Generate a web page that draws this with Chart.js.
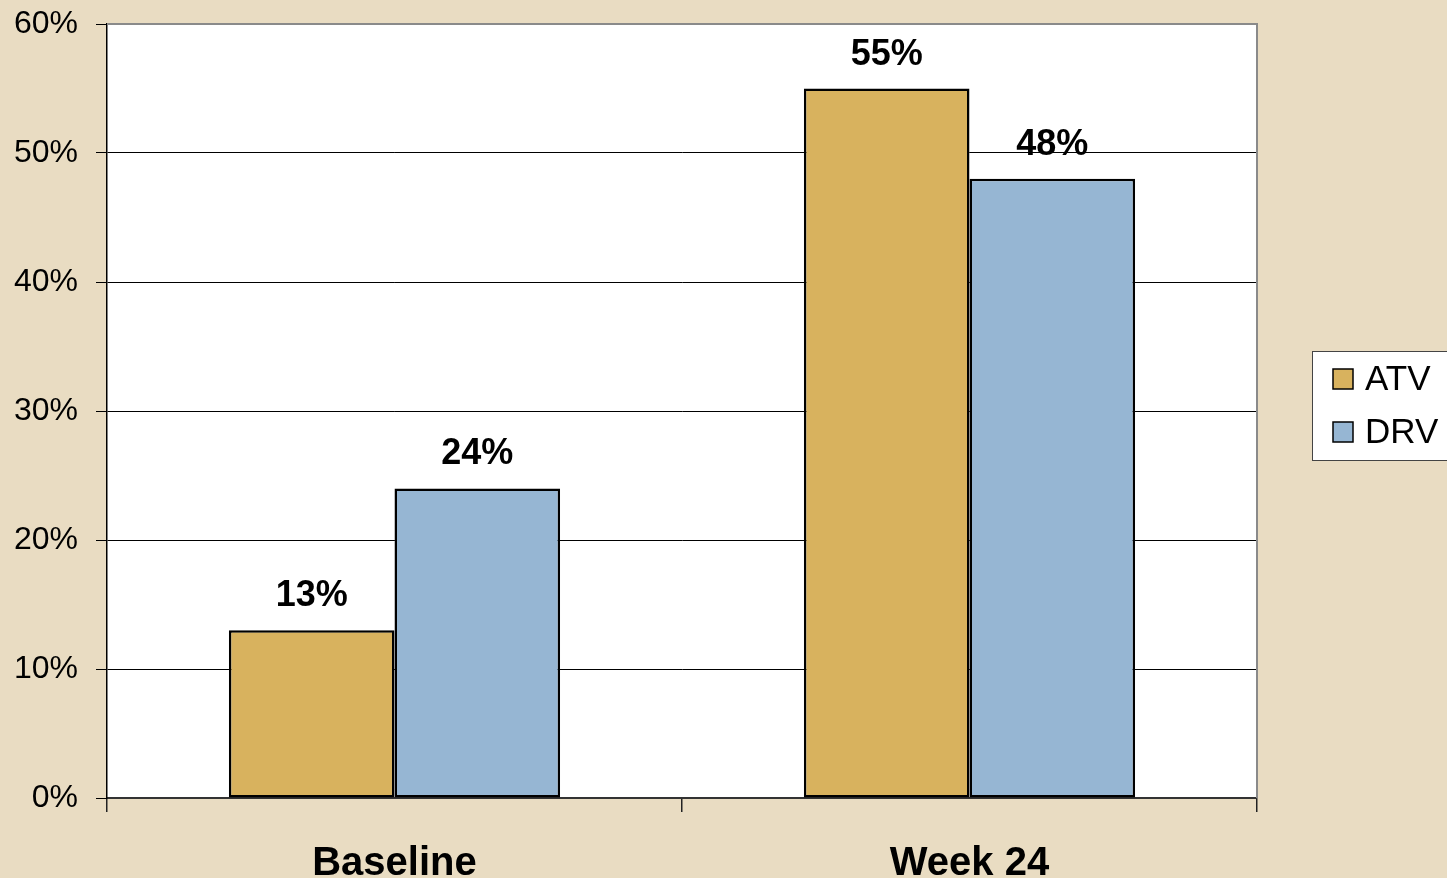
<!DOCTYPE html>
<html>
<head>
<meta charset="utf-8">
<title>ATV vs DRV</title>
<script src="https://cdn.jsdelivr.net/npm/chart.js@4.4.1/dist/chart.umd.min.js"></script>
<style>
  html, body { margin: 0; padding: 0; background: #E9DCC2; }
  #wrap { width: 1447px; height: 878px; position: relative; }
</style>
</head>
<body>
<div id="wrap"><canvas id="chart" width="1447" height="878"></canvas></div>
<script>
// Time points and percentages per regimen
const categories = ['Baseline', 'Week 24'];
const atvValues = [13, 55];
const drvValues = [24, 48];
const seriesNames = ['ATV', 'DRV'];
const yTicks = [0, 10, 20, 30, 40, 50, 60];

const ATV_COLOR = '#D8B25E';
const DRV_COLOR = '#96B6D3';
const FONT = '"Liberation Sans", Arial, Helvetica, sans-serif';

// White plot area with a grey frame on the top and right sides
const plotFrame = {
  id: 'plotFrame',
  beforeDraw(chart) {
    const { ctx, chartArea: a } = chart;
    ctx.save();
    ctx.fillStyle = '#FFFFFF';
    ctx.fillRect(a.left, a.top, a.right - a.left, a.bottom - a.top);
    ctx.restore();
  },
  afterDatasetsDraw(chart) {
    const { ctx, chartArea: a } = chart;
    ctx.save();
    ctx.strokeStyle = '#8A8A8A';
    ctx.lineWidth = 2;
    ctx.beginPath();
    ctx.moveTo(a.left, a.top);
    ctx.lineTo(a.right, a.top);
    ctx.lineTo(a.right, a.bottom);
    ctx.stroke();
    ctx.restore();
  }
};

// Bold percentage above each bar
const valueLabels = {
  id: 'valueLabels',
  afterDatasetsDraw(chart) {
    const { ctx } = chart;
    ctx.save();
    ctx.font = 'bold 36px ' + FONT;
    ctx.fillStyle = '#000';
    ctx.textAlign = 'center';
    ctx.textBaseline = 'alphabetic';
    chart.data.datasets.forEach((ds, di) => {
      chart.getDatasetMeta(di).data.forEach((bar, i) => {
        ctx.fillText(ds.data[i] + '%', bar.x, bar.y - 24);
      });
    });
    ctx.restore();
  }
};

// Boxed legend on the right
const boxLegend = {
  id: 'boxLegend',
  afterDraw(chart) {
    const { ctx } = chart;
    const x = 1312.5, y = 351.5, w = 140, h = 109;
    ctx.save();
    ctx.fillStyle = '#FFFFFF';
    ctx.fillRect(x, y, w, h);
    ctx.strokeStyle = '#444';
    ctx.lineWidth = 1;
    ctx.strokeRect(x, y, w, h);
    ctx.font = '35px ' + FONT;
    ctx.textBaseline = 'middle';
    ctx.textAlign = 'left';
    chart.data.datasets.forEach((ds, i) => {
      const cy = 379 + i * 53;
      ctx.fillStyle = ds.backgroundColor;
      ctx.fillRect(1333, cy - 10, 20, 20);
      ctx.strokeStyle = '#000';
      ctx.lineWidth = 1.5;
      ctx.strokeRect(1333, cy - 10, 20, 20);
      ctx.fillStyle = '#000';
      ctx.fillText(ds.label, 1365, cy + 1);
    });
    ctx.restore();
  }
};

new Chart(document.getElementById('chart'), {
  type: 'bar',
  data: {
    labels: categories,
    datasets: [
      { label: seriesNames[0], data: atvValues, backgroundColor: ATV_COLOR,
        borderColor: '#000', borderWidth: 2.5, borderSkipped: false },
      { label: seriesNames[1], data: drvValues, backgroundColor: DRV_COLOR,
        borderColor: '#000', borderWidth: 2.5, borderSkipped: false }
    ]
  },
  options: {
    responsive: false,
    animation: false,
    events: [],
    layout: { padding: { top: 24, right: 190, left: 0, bottom: 0 } },
    datasets: { bar: { categoryPercentage: 0.576, barPercentage: 1.0 } },
    plugins: { legend: { display: false }, tooltip: { enabled: false } },
    scales: {
      x: {
        grid: { display: true, drawOnChartArea: false, drawTicks: true, tickLength: 14,
                color: '#222', lineWidth: 1.5, offset: true },
        border: { display: true, color: '#333', width: 2 },
        ticks: { color: '#000', font: { family: FONT, size: 40, weight: 'bold' }, padding: 28,
                 maxRotation: 0 },
        afterFit(scale) { scale.height = 80; scale.paddingLeft = 0; scale.paddingRight = 0; }
      },
      y: {
        min: 0, max: 60,
        afterBuildTicks(scale) { scale.ticks = yTicks.map(v => ({ value: v })); },
        grid: { color: '#000', lineWidth: 1, drawTicks: true, tickLength: 11 },
        border: { display: true, color: '#000', width: 1.5 },
        ticks: { color: '#000', font: { family: FONT, size: 32 }, padding: 18,
                 callback: v => v + '%' },
        afterFit(scale) { scale.width = 107; scale.paddingTop = 0; scale.paddingBottom = 0; }
      }
    }
  },
  plugins: [plotFrame, valueLabels, boxLegend]
});
</script>
</body>
</html>
